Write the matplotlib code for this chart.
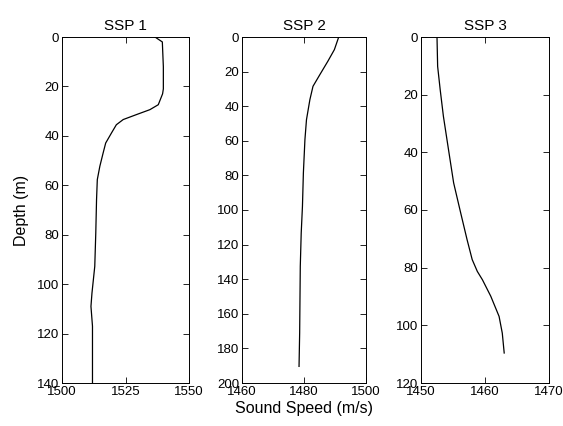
import matplotlib.pyplot as plt

plt.rcParams['font.family'] = ['Liberation Sans', 'DejaVu Sans']

# SSP 1
depth1 = [0, 2, 12, 21, 23, 27.4, 29.4, 31.4, 33.4, 35.5, 38.8, 42.9, 46.9, 52.3,
          57.7, 65.8, 79.3, 92.8, 103.6, 109, 117, 140]
speed1 = [1536.6, 1539.5, 1539.9, 1539.9, 1539.6, 1537.9, 1534.6, 1529.3, 1524.1,
          1521.4, 1519.5, 1517.2, 1516.2, 1514.9, 1513.9, 1513.6, 1513.3, 1512.9,
          1511.8, 1511.4, 1512.0, 1512.0]

# SSP 2
depth2 = [0, 7.3, 14, 21.8, 28.5, 36.2, 47.8, 59.3, 78.6, 97.9, 113.3, 132.6, 171, 190.4]
speed2 = [1491.2, 1489.8, 1487.7, 1485.1, 1482.9, 1481.9, 1480.8, 1480.3, 1479.8,
          1479.5, 1479.1, 1478.8, 1478.6, 1478.4]

# SSP 3
depth3 = [0, 10.2, 18.3, 27.5, 39.1, 50.6, 61, 70.3, 77.2, 81.3, 84.2, 89.9, 96.9,
          102.7, 109.6]
speed3 = [1452.5, 1452.6, 1453.0, 1453.5, 1454.3, 1455.1, 1456.2, 1457.2, 1458.0,
          1458.8, 1459.6, 1460.9, 1462.2, 1462.7, 1463.0]

titles = ['SSP 1', 'SSP 2', 'SSP 3']
xlims = [(1500, 1550), (1460, 1500), (1450, 1470)]
xticks = [[1500, 1525, 1550], [1460, 1480, 1500], [1450, 1460, 1470]]
ylims = [140, 200, 120]
yticks = [range(0, 141, 20), range(0, 201, 20), range(0, 121, 20)]

fig = plt.figure(figsize=(5.63, 4.26), dpi=100)
boxes = [(62, 189), (242, 366), (421, 549)]
W, H = 563, 426
top, bot = 37, 383

data = [(speed1, depth1), (speed2, depth2), (speed3, depth3)]
for i, (l, r) in enumerate(boxes):
    ax = fig.add_axes([l / W, 1 - bot / H, (r - l) / W, (bot - top) / H])
    ax.plot(data[i][0], data[i][1], color='black', lw=0.9)
    ax.set_xlim(*xlims[i])
    ax.set_ylim(ylims[i], 0)
    ax.set_xticks(xticks[i])
    ax.set_yticks(list(yticks[i]))
    ax.set_title(titles[i], fontsize=11, pad=5)
    ax.tick_params(direction='in', top=True, right=True, length=4, width=0.6,
                   labelsize=9.5, pad=2)
    for s in ax.spines.values():
        s.set_linewidth(0.7)
    if i == 0:
        ax.set_ylabel('Depth (m)', fontsize=11.5, labelpad=6)
    if i == 1:
        ax.set_xlabel('Sound Speed (m/s)', fontsize=11.5, labelpad=2)

fig.savefig('out.png', dpi=100)
